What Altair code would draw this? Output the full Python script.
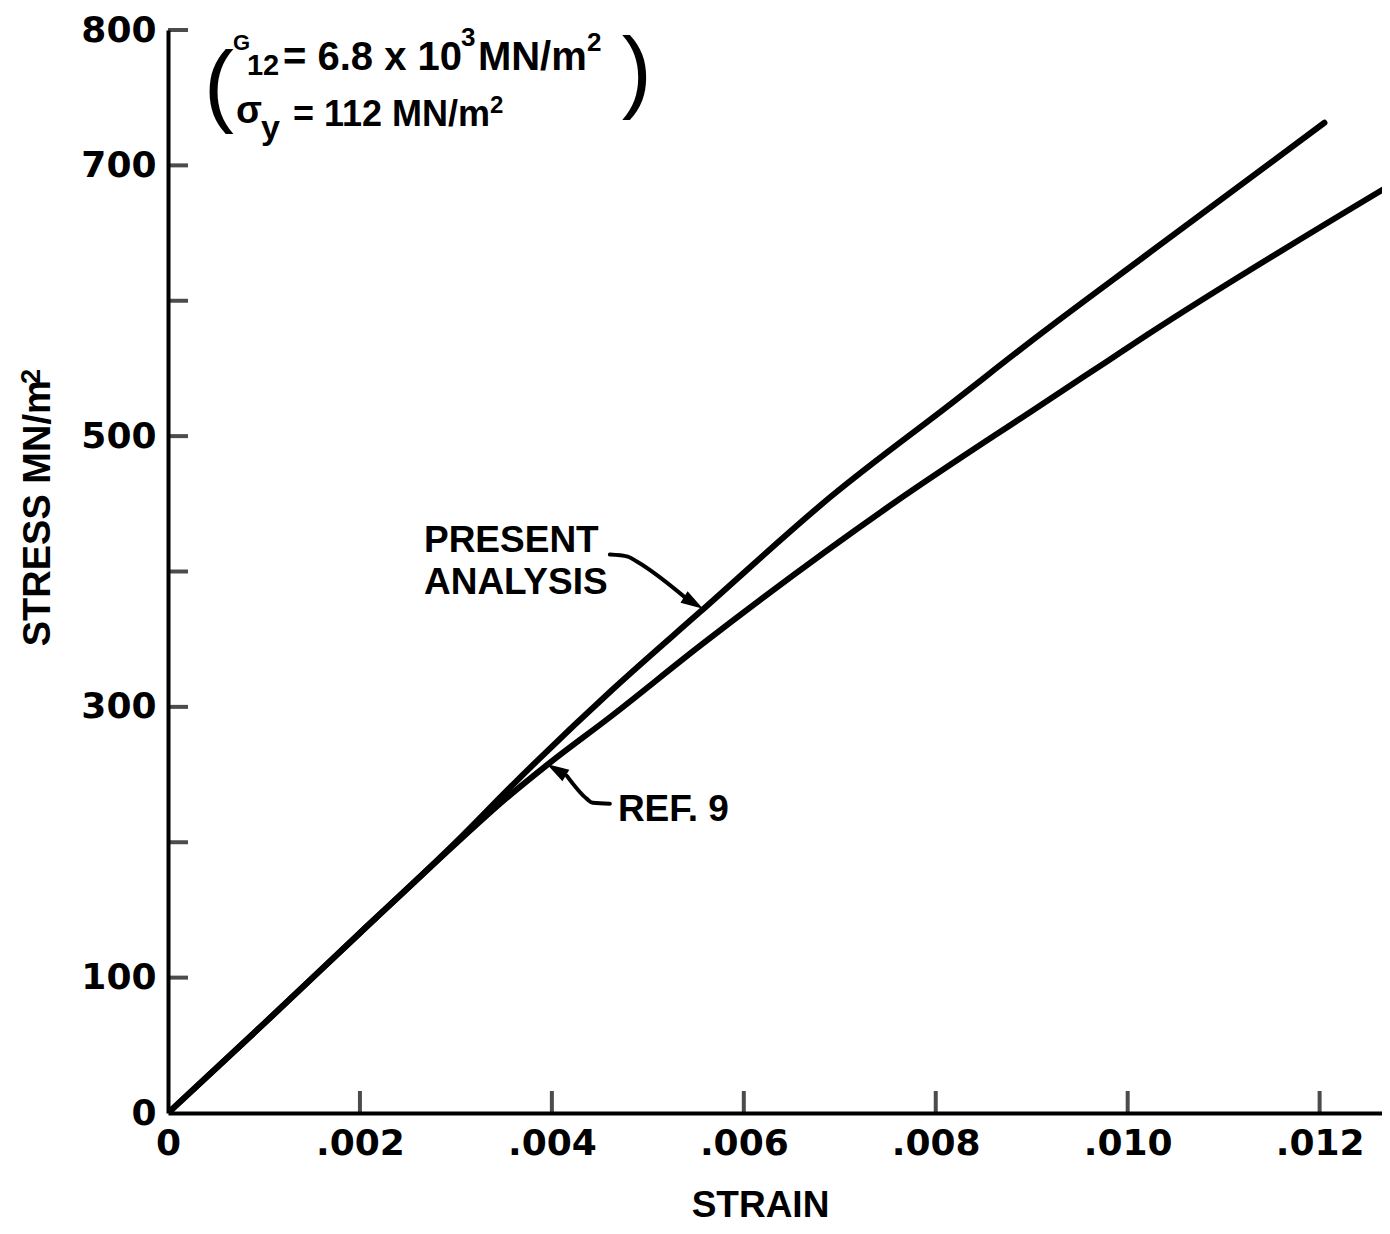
import altair as alt
import pandas as pd

# ---------------- data ----------------
present_strain = [0, 0.001, 0.002, 0.003, 0.0036, 0.004635, 0.005542, 0.006927, 0.008177, 0.009083, 0.010198, 0.01205]
present_stress = [0, 66, 133, 200, 243, 313, 370, 456.5, 525, 575, 634, 731.5]

ref9_strain = [0, 0.001, 0.002, 0.003, 0.0035, 0.003948, 0.004635, 0.005542, 0.007552, 0.00901, 0.00978, 0.010208, 0.012656]
ref9_stress = [0, 66, 133, 199, 231, 257, 294, 345, 450, 519, 555, 575, 682]

x_label_values = [0, 0.002, 0.004, 0.006, 0.008, 0.010, 0.012]
x_tick_values = [0.002, 0.004, 0.006, 0.008, 0.010, 0.012]
y_label_values = [0, 100, 300, 500, 700, 800]
y_tick_values = [100, 200, 300, 400, 500, 600, 700, 800]

# annotation texts (positions in data units)
note_text = ["G", "12", "= 6.8 x 10", "3", "MN/m", "2", "σ", "y", "= 112 MN/m", "2"]
note_strain = [0.000677, 0.000823, 0.001198, 0.003052, 0.003229, 0.004365, 0.000708, 0.000969, 0.001302, 0.003354]
note_stress = [785.3, 766.9, 770.5, 788.2, 770.5, 784.5, 731.5, 719.7, 729.3, 738.9]
note_size = [22, 29, 40, 26, 40, 26, 38, 34, 36, 24]

paren_text = ["(", ")"]
paren_strain = [0.000375, 0.004729]
paren_stress = [737.4, 747.3]

label_text = ["PRESENT", "ANALYSIS", "REF. 9"]
label_strain = [0.002667, 0.002667, 0.004688]
label_stress = [414.7, 383.1, 215.8]

# y-axis title, written upward
ytitle_text = ["STRESS  MN/m", "2"]
ytitle_strain = [-0.001229, -0.001333]
ytitle_stress = [344.8, 538.5]
ytitle_size = [38, 27]

arrow_id = ["present"] * 4 + ["ref9"] * 4
arrow_strain = [0.004604, 0.004792, 0.004885, 0.005438, 0.004604, 0.004427, 0.004365, 0.004156]
arrow_stress = [412.5, 411.0, 407.4, 377.9, 228.4, 229.1, 232.0, 249.0]

head_strain = [0.005476, 0.004046]
head_stress = [376.8, 253.6]
head_angle = [122, 301]

# ---------------- frames ----------------
curves = pd.DataFrame({
    "strain": present_strain + ref9_strain,
    "stress": present_stress + ref9_stress,
    "series": ["Present analysis"] * len(present_strain) + ["Ref. 9"] * len(ref9_strain),
    "idx": list(range(len(present_strain))) + list(range(len(ref9_strain))),
})
notes = pd.DataFrame({"text": note_text, "strain": note_strain, "stress": note_stress, "fs": note_size})
parens = pd.DataFrame({"text": paren_text, "strain": paren_strain, "stress": paren_stress})
labels = pd.DataFrame({"text": label_text, "strain": label_strain, "stress": label_stress})
ytitle = pd.DataFrame({"text": ytitle_text, "strain": ytitle_strain, "stress": ytitle_stress, "fs": ytitle_size})
arrows = pd.DataFrame({"id": arrow_id, "strain": arrow_strain, "stress": arrow_stress,
                       "idx": list(range(4)) + list(range(4))})
heads = pd.DataFrame({"strain": head_strain, "stress": head_stress, "angle": head_angle})

W, H = 1214, 1083
xscale = alt.Scale(domain=[0, 0.01265], nice=False, zero=True)
yscale = alt.Scale(domain=[0, 800], nice=False)

TXT = "Liberation Sans"
NUM = "DejaVu Sans"

x_axis = alt.Axis(
    values=x_label_values,
    labelExpr="datum.value == 0 ? '0' : replace(format(datum.value, '.3f'), '0.', '.')",
    ticks=False, grid=False, domainColor="black", domainWidth=4,
    labelFont=NUM, labelFontWeight="bold", labelFontSize=36, labelColor="black",
    labelPadding=13, labelFlush=False, labelOverlap=False,
    title="STRAIN", titleFont=TXT, titleFontSize=37, titleFontWeight="bold", titleColor="black",
    titleX=592, titleY=92, titleAlign="center", titleBaseline="middle",
)
y_axis = alt.Axis(
    values=y_label_values,
    ticks=False, grid=False, domainColor="black", domainWidth=4,
    labelFont=NUM, labelFontWeight="bold", labelFontSize=36, labelColor="black",
    labelPadding=12, labelOverlap=False,
    title=None,
)


def X(field="strain:Q"):
    return alt.X(field, scale=xscale, axis=x_axis)


def Y(field="stress:Q"):
    return alt.Y(field, scale=yscale, axis=y_axis)


lines = alt.Chart(curves).mark_line(
    color="black", strokeWidth=6, clip=True, strokeCap="round", strokeJoin="round",
    interpolate="monotone",
).encode(x=X(), y=Y(), detail="series:N", order="idx:Q")

xticks = alt.Chart(pd.DataFrame({"strain": x_tick_values})).mark_tick(
    orient="vertical", color="black", thickness=4, size=22
).encode(x=X(), y=alt.value(H - 11))

yticks = alt.Chart(pd.DataFrame({"stress": y_tick_values})).mark_tick(
    orient="horizontal", color="black", thickness=4, size=20
).encode(y=Y(), x=alt.value(10))

note_layer = alt.Chart(notes).mark_text(
    font=TXT, fontWeight="bold", align="left", baseline="alphabetic", color="black"
).encode(
    x=X(), y=Y(), text="text:N",
    size=alt.Size("fs:Q", scale=None, legend=None),
)

paren_layer = alt.Chart(parens).mark_text(
    font=TXT, fontWeight="normal", fontSize=90, align="left", baseline="alphabetic", color="black"
).encode(x=X(), y=Y(), text="text:N")

label_layer = alt.Chart(labels).mark_text(
    font=TXT, fontWeight="bold", fontSize=37, align="left", baseline="alphabetic", color="black"
).encode(x=X(), y=Y(), text="text:N")

ytitle_layer = alt.Chart(ytitle).mark_text(
    font=TXT, fontWeight="bold", align="left", baseline="alphabetic", color="black", angle=270
).encode(
    x=X(), y=Y(), text="text:N",
    size=alt.Size("fs:Q", scale=None, legend=None),
)

arrow_layer = alt.Chart(arrows).mark_line(
    color="black", strokeWidth=4, strokeCap="round", strokeJoin="round", interpolate="monotone"
).encode(x=X(), y=Y(), detail="id:N", order="idx:Q")

head_layer = alt.Chart(heads).mark_point(
    shape="M0,-1L0.6,1L-0.6,1Z", filled=True, color="black", size=500, opacity=1
).encode(x=X(), y=Y(), angle=alt.Angle("angle:Q", scale=None))

chart = alt.layer(
    lines, xticks, yticks, note_layer, paren_layer, label_layer, ytitle_layer, arrow_layer, head_layer
).properties(
    width=W, height=H,
    padding={"left": 160, "top": 22, "right": 0, "bottom": 113},
    autosize=alt.AutoSizeParams(type="none"),
    background="white",
).configure_view(stroke=None)

chart.save("out.html", embed_options={"renderer": "svg", "actions": False})
